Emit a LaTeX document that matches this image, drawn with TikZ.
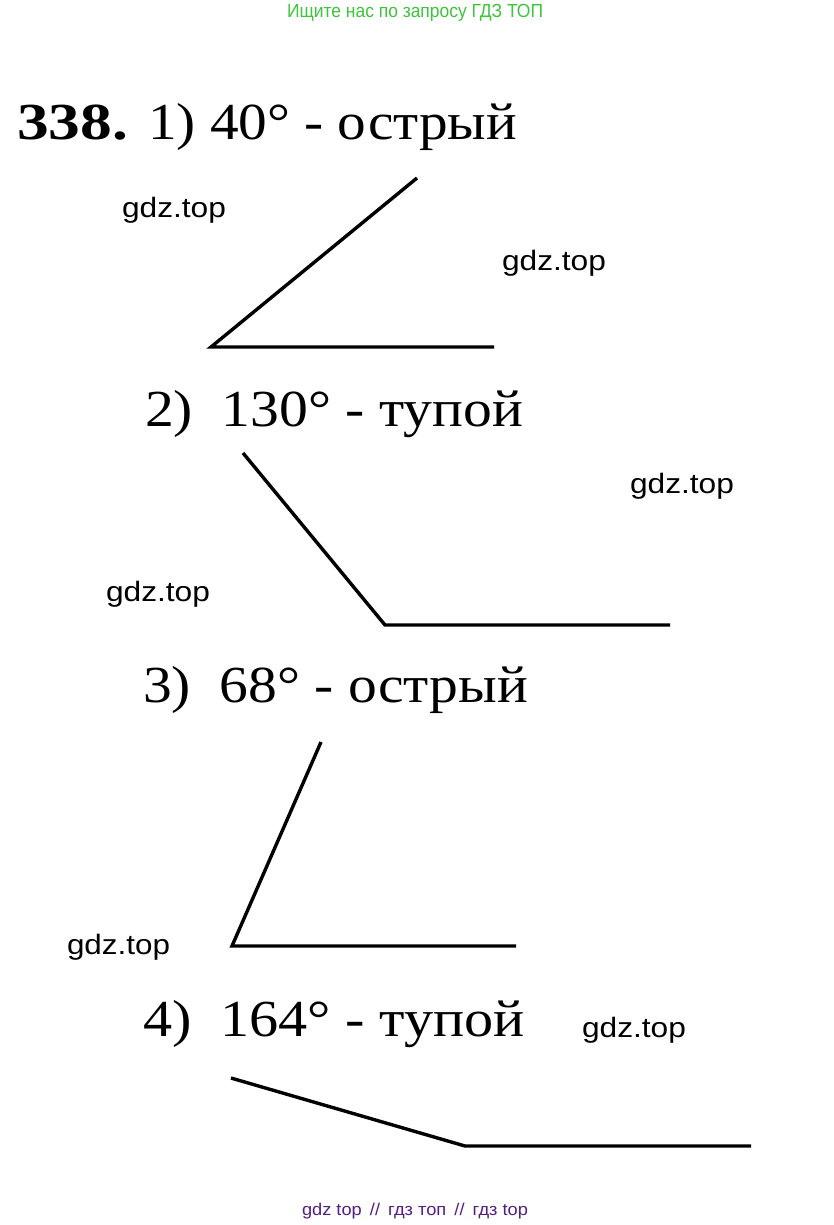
\documentclass[tikz,border=0pt]{standalone}
\usepackage{fontspec}
\usepackage{graphicx}
\setmainfont{Liberation Serif}
\newfontfamily\wmfont{Liberation Sans}
\newfontfamily\topfont{Liberation Sans}
\definecolor{topgreen}{RGB}{60,196,60}
\definecolor{botpurple}{RGB}{84,30,130}
\newcommand{\fitw}[2]{\resizebox{#1}{\height}{#2}}
\begin{document}
\begin{tikzpicture}[x=1pt,y=1pt,
  txt/.style={anchor=base west,inner sep=0pt,outer sep=0pt},
  title/.style={txt,font=\fontsize{52}{52}\selectfont},
  wm/.style={txt,font=\wmfont\fontsize{28}{28}\selectfont},
  ray/.style={line width=3.4pt,black}]
\useasboundingbox (0,0) rectangle (833,-1225);
% header / footer
\node[txt,font=\topfont\fontsize{19}{19}\selectfont,text=topgreen] (hdr) at (287,-18) {\fitw{256pt}{Ищите нас по запросу ГДЗ ТОП}};
\node[txt,font=\wmfont\fontsize{17}{17}\selectfont,text=botpurple] (ftr) at (302,-1215) {\fitw{226pt}{gdz top \,//\, гдз топ \,//\, гдз top}};
% titles
\node[title] (num) at (17,-140) {\fitw{111pt}{\bfseries 338.}};
\node[title] (t1) at (148,-140) {\fitw{369pt}{1) 40° - острый}};
\node[title] (t2) at (145,-426) {\fitw{378pt}{2)\ \ 130° - тупой}};
\node[title] (t3) at (143,-702) {\fitw{385pt}{3)\ \ 68° - острый}};
\node[title] (t4) at (143,-1036) {\fitw{382pt}{4)\ \ 164° - тупой}};
% watermarks
\node[wm] (w1) at (122,-217) {\fitw{104pt}{gdz.top}};
\node[wm] (w2) at (502,-270) {\fitw{104pt}{gdz.top}};
\node[wm] (w3) at (630,-493) {\fitw{104pt}{gdz.top}};
\node[wm] (w4) at (106,-601) {\fitw{104pt}{gdz.top}};
\node[wm] (w5) at (67,-954) {\fitw{103pt}{gdz.top}};
\node[wm] (w6) at (582,-1037) {\fitw{104pt}{gdz.top}};
% angle 1 (40)
\coordinate (a1v) at (211,-347);
\coordinate (a1a) at (417,-178);
\coordinate (a1b) at (494,-347);
\draw[ray] (a1a) -- (a1v) -- (a1b);
% angle 2 (130)
\coordinate (a2v) at (385,-625);
\coordinate (a2a) at (243,-453);
\coordinate (a2b) at (670,-625);
\draw[ray] (a2a) -- (a2v) -- (a2b);
% angle 3 (68)
\coordinate (a3v) at (232,-946);
\coordinate (a3a) at (321,-742);
\coordinate (a3b) at (516,-946);
\draw[ray] (a3a) -- (a3v) -- (a3b);
% angle 4 (164)
\coordinate (a4v) at (465,-1146);
\coordinate (a4a) at (231,-1078);
\coordinate (a4b) at (751,-1146);
\draw[ray] (a4a) -- (a4v) -- (a4b);
\end{tikzpicture}
\end{document}
